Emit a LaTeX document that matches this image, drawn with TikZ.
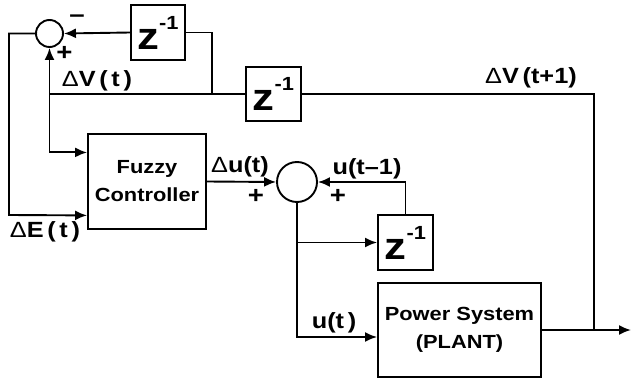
\documentclass[tikz,border=0pt]{standalone}
\usepackage{fontspec}
\setmainfont{Liberation Sans}[FakeStretch=1.15]
\usetikzlibrary{arrows.meta, positioning, calc}
\newcommand{\zinv}{{\fontsize{38}{38}\selectfont z}\raisebox{20pt}{\fontsize{19}{19}\selectfont -1}}
\newcommand{\dl}{{\mdseries Δ}}

\begin{document}
\begin{tikzpicture}[x=1pt, y=-1pt,
    blk/.style={rectangle, draw, line width=1.9pt, inner sep=0pt,
                font=\fontsize{19}{28}\selectfont\bfseries, align=center},
    sumc/.style={circle, draw, line width=1.9pt, inner sep=0pt},
    arr/.style={-{Latex[length=12pt, width=10pt]}, line width=1.9pt},
    ln/.style={line width=1.9pt},
    lbl/.style={font=\fontsize{22}{24}\selectfont\bfseries, inner sep=0pt},
    sgn/.style={font=\fontsize{24}{24}\selectfont\bfseries, inner sep=0pt}
  ]
  \useasboundingbox (0,0) rectangle (631,379);

  % summing junctions
  \node[sumc, minimum size=27pt] (s1) at (49.5,33.5) {};
  \node[sumc, minimum size=40pt] (s2) at (297,182) {};

  % blocks
  \node[blk, minimum width=54pt, minimum height=55pt] (d1) at (158,32.5) {\zinv};
  \node[blk, minimum width=55pt, minimum height=54pt] (d2) at (273.5,94) {\zinv};
  \node[blk, minimum width=55pt, minimum height=55pt] (d3) at (405.5,242.5) {\zinv};
  \node[blk, minimum width=118pt, minimum height=95pt] (fc) at (147,181.5)
        {Fuzzy\\Controller};
  \node[blk, minimum width=163pt, minimum height=94pt] (ps) at (459.5,330)
        {Power System\\(PLANT)};

  \coordinate (fb) at (212,94);
  \coordinate (eleft) at (9,215);
  \coordinate (tap) at (594,330);
  \coordinate (out) at (631,330);
  \coordinate (fin) at ($(fc.north west)!0.2!(fc.south west)$);
  \coordinate (ein) at ($(fc.north west)!0.85!(fc.south west)$);
  \coordinate (uin) at ($(ps.west)+(0,7)$);

  % connectors
  \draw[arr] (d1.west) -- (s1.east);
  \draw[ln] (d1.east) -| (fb);
  \draw[arr] (d2.west) -- (s1.south |- d2.west) -- (s1.south);
  \draw[arr] (s1.south |- d2.west) |- (fin);
  \draw[arr] (s1.west) -| (eleft) -- (ein);
  \draw[ln] (d2.east) -| (tap);
  \draw[arr] (ps.east) -- (out);
  \draw[arr] (fc.east) -- (s2.west);
  \draw[arr] (d3.north) |- (s2.east);
  \draw[arr] (s2.south) |- (uin);
  \draw[arr] (s2.south |- d3.west) -- (d3.west);

  % labels
  \node[lbl] (lv) at (97,81) {\dl V\,(\,t\,)};
  \node[lbl] (lv1) at (531,78) {\dl V\,(t+1)};
  \node[lbl] (le) at (45,232) {\dl E\,(\,t\,)};
  \node[lbl] (lu) at (240,167) {\dl u(t)};
  \node[lbl] (lu1) at (367,169) {u(t–1)};
  \node[lbl] (lut) at (334,323) {u(t\,)};

  % signs
  \node[sgn] (m1) at (77,19) {–};
  \node[sgn] (p1) at (64.5,53) {+};
  \node[sgn] (p2) at (256,196) {+};
  \node[sgn] (p3) at (338,196) {+};
\end{tikzpicture}
\end{document}
